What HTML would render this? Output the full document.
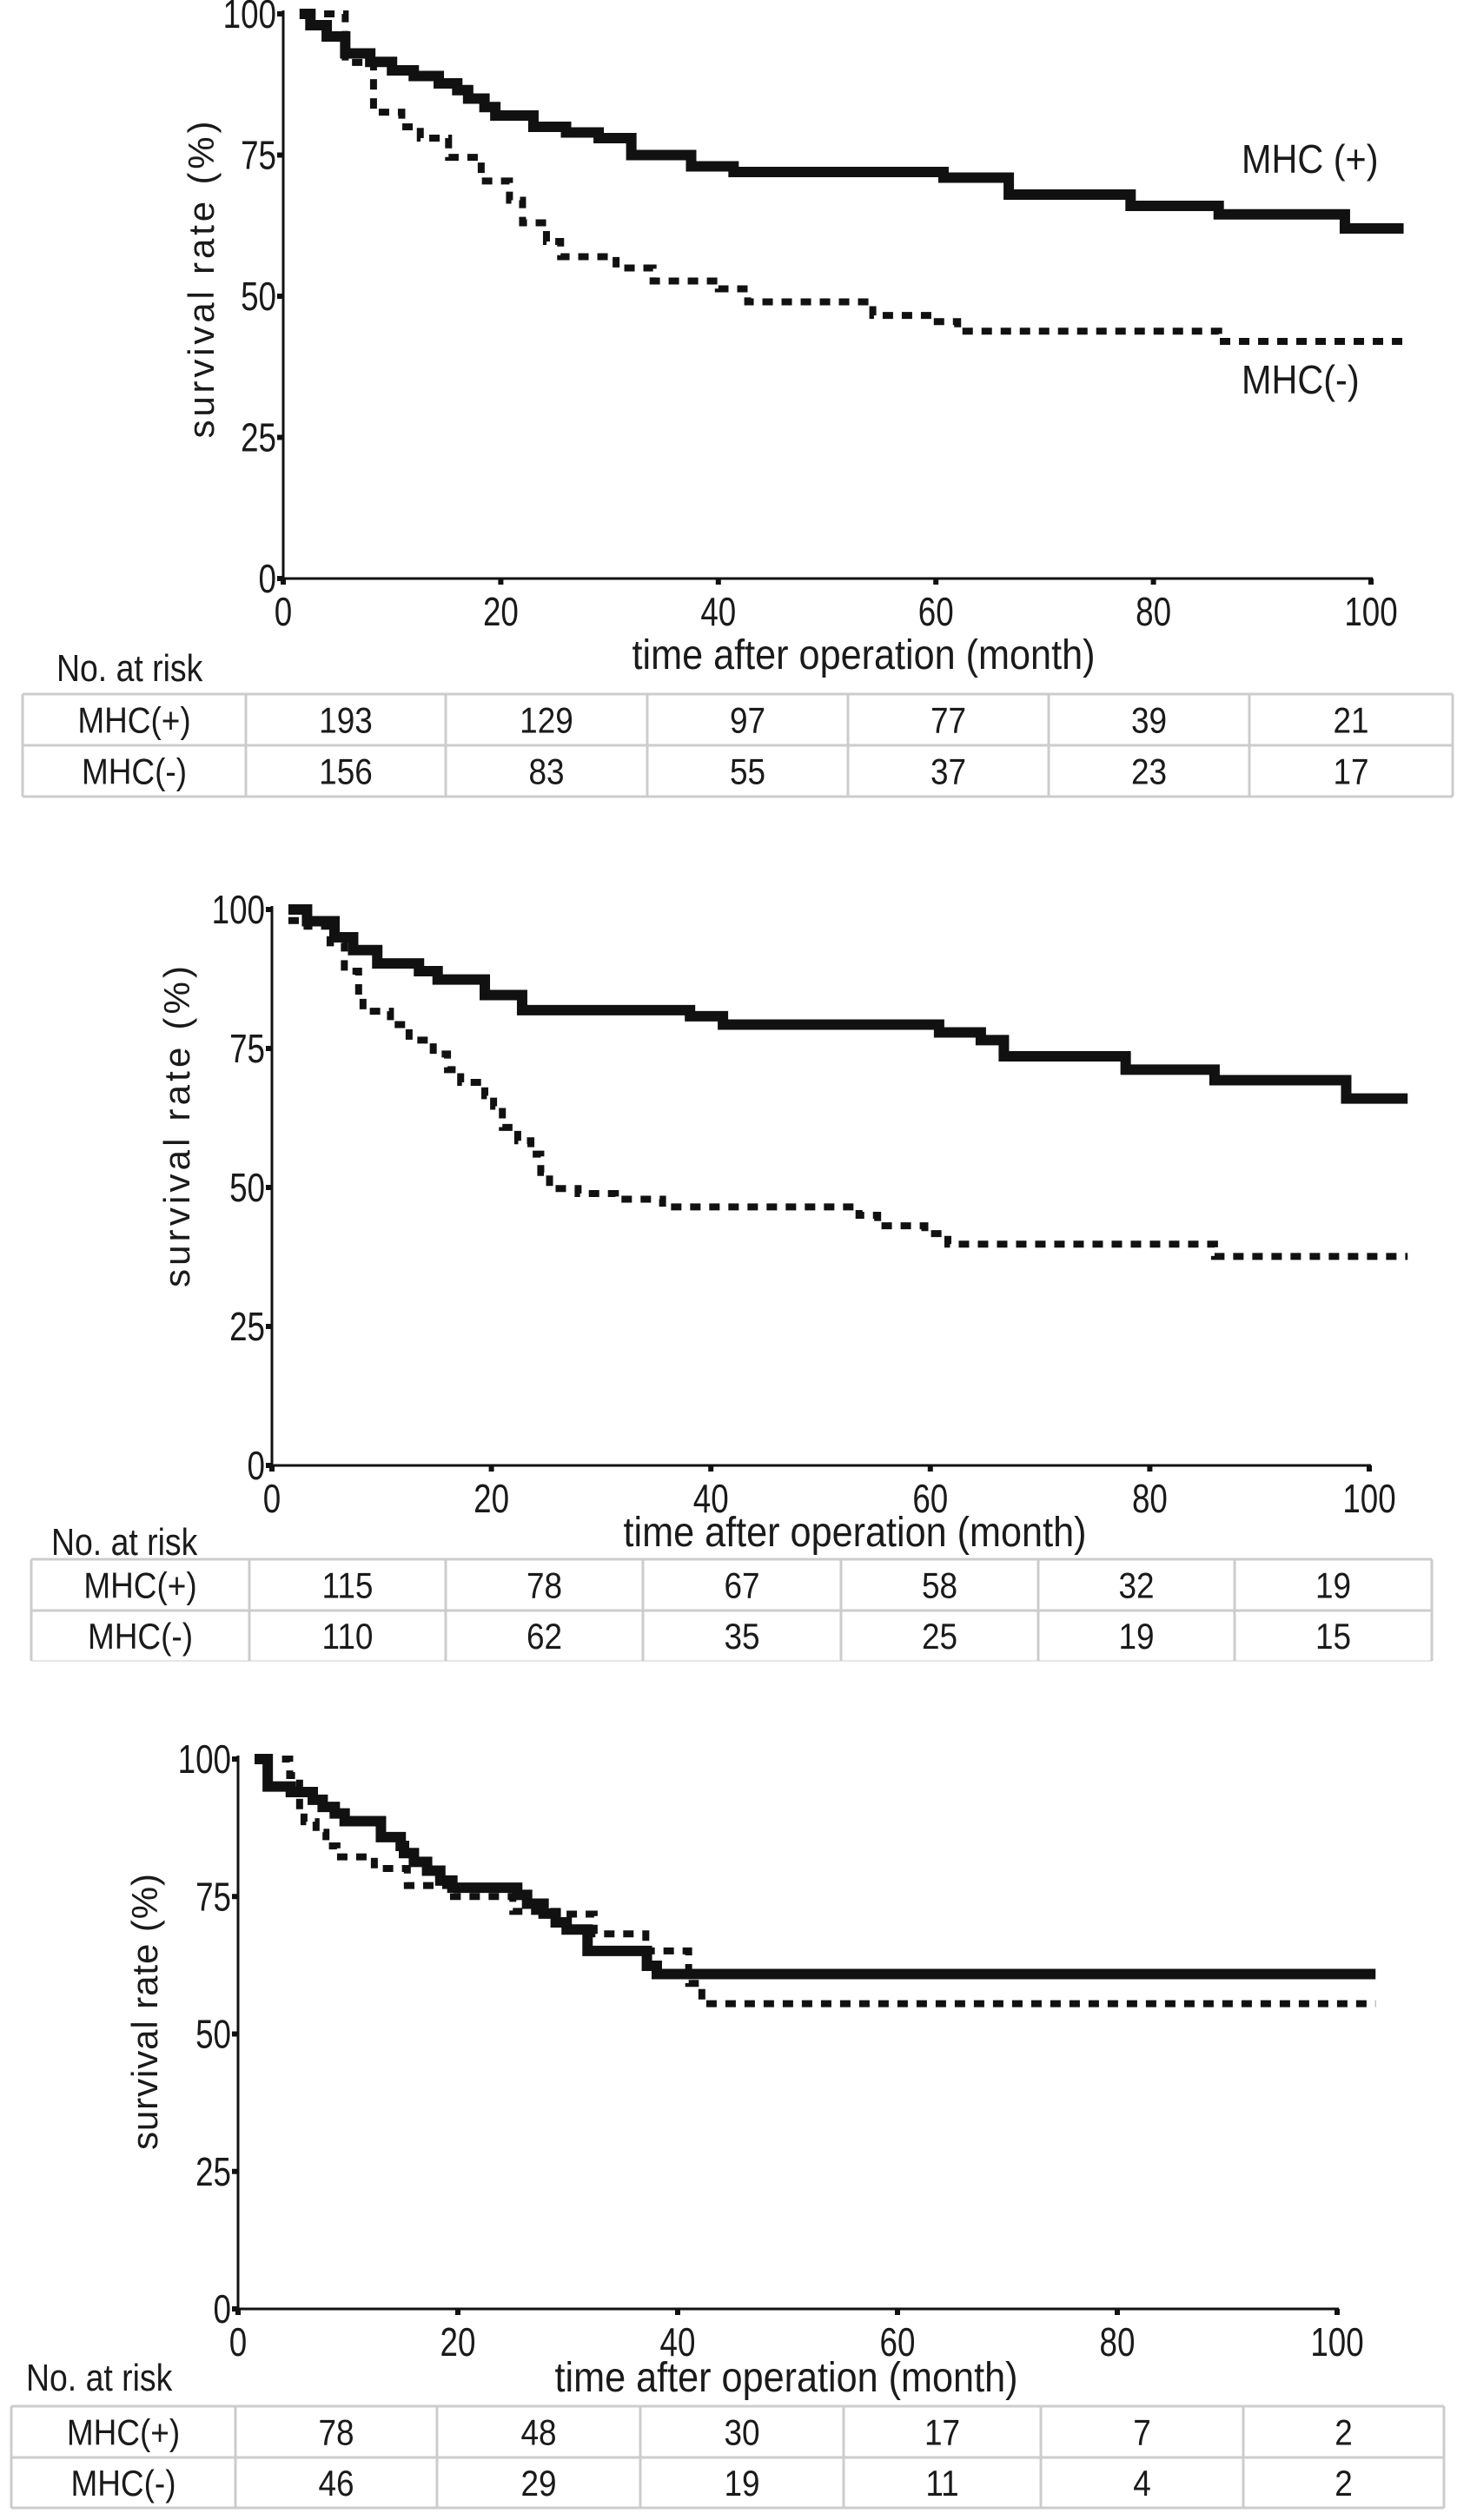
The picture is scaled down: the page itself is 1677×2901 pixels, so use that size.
<!DOCTYPE html>
<html><head><meta charset="utf-8"><style>
html,body{margin:0;padding:0;background:#fff;}
svg{display:block;}
text{font-family:"Liberation Sans",Arial,sans-serif;fill:#1a1a1a;}
</style></head><body>
<svg id="fig" width="1677" height="2901" viewBox="0 0 1677 2901" xmlns="http://www.w3.org/2000/svg"></svg>
<script>
// ---- data ----
const xTicks = [0,20,40,60,80,100];
const yTicks = [0,25,50,75,100];
// Panel 1
const p1PlusT = [1.5,2.5,4,5.7,8,10,12,14.3,16,17,18.5,19.5,23,26,29,32,37.5,41.4,60.7,66.7,77.9,86,97.6,103];
const p1PlusS = [100,98,96,93,91.5,90,89,87.7,86.5,85,83.5,82,80,79,78,75,73,72,71,68,66,64.5,62,62];
const p1MinusT = [2,5.7,8.3,10.9,12.6,15.2,18.2,20.8,22,24.2,25.5,30.6,34,40,42.7,54.2,59.8,62,86,103];
const p1MinusS = [100,91.4,82.6,80,78,74.6,70.4,67,63,59.7,57,55,52.7,51.3,49,46.6,45.5,43.8,42,42];
// Panel 2
const p2PlusT = [1.5,3.2,5.7,7.4,9.6,13.4,15.1,19.4,22.8,38.1,41.1,60.8,64.6,66.7,77.8,85.9,97.9,103.5];
const p2PlusS = [100,97.9,95,92.7,90.3,88.9,87.4,84.6,81.9,80.8,79.3,77.9,76.5,73.6,71.2,69.3,66,66];
const p2MinusT = [1.5,3.2,5.3,6.6,7.9,8.3,10.8,12.5,14.7,16,17.2,19.4,20.2,21,22.4,23.6,24.5,25.3,27.9,31.3,35.6,53.5,55.2,59.5,61.6,85.9,103.5];
const p2MinusS = [98,97,94,88.9,84.6,81.7,79.3,76.5,74,71.2,68.9,66.5,64.6,60.8,58.4,56,52.7,49.8,48.9,47.9,46.5,45,43.1,41.7,39.8,37.6,37.6];
// Panel 3
const p3PlusT = [1.5,2.7,4.8,6.8,7.7,8.8,9.7,13,14.8,15.1,16,17.2,18.4,19.5,25.4,26.3,27.8,28.9,29.9,31.8,37.2,38.1,103.5];
const p3PlusS = [100,95,94,92.6,91.3,90.1,88.7,85.8,84.2,82.9,81.3,79.7,77.9,76.6,75.3,73.7,71.9,70.3,69,65.1,62.4,60.9,60.9];
const p3MinusT = [4,4.7,5.6,6,7.1,8,9,12.4,15.4,19.6,25,29.4,32.4,37.1,41,42.2,103.5];
const p3MinusS = [100,97,90.6,88.6,86.7,84.2,82.2,80.1,77,75,72.3,71.8,68.2,65.1,59.2,55.5,55.5];
// At-risk tables
const p1RiskPlus = ["193","129","97","77","39","21"];
const p1RiskMinus = ["156","83","55","37","23","17"];
const p2RiskPlus = ["115","78","67","58","32","19"];
const p2RiskMinus = ["110","62","35","25","19","15"];
const p3RiskPlus = ["78","48","30","17","7","2"];
const p3RiskMinus = ["46","29","19","11","4","2"];

const NS = "http://www.w3.org/2000/svg";
const svg = document.getElementById('fig');
function mk(tag, attrs, parent){
  const e = document.createElementNS(NS, tag);
  for (const k in attrs) e.setAttribute(k, attrs[k]);
  (parent||svg).appendChild(e);
  return e;
}
// condensed text
function ctext(x,y,size,sx,anchor,parent){
  return mk('text',{x:0,y:0,'font-size':size,'text-anchor':anchor,transform:'translate('+x+','+y+') scale('+sx+',1)'},parent);
}
function stepPath(T,S,xs,ys){
  let d = "M"+xs(T[0])+","+ys(S[0]);
  for(let i=1;i<T.length;i++){ d += " H"+xs(T[i])+" V"+ys(S[i]); }
  return d;
}
function panel(cfg){
  const g = mk('g',{});
  
  
  const xs = t => cfg.x0 + (cfg.x100-cfg.x0)*t/100;
  const ys = s => cfg.y0 - (cfg.y0-cfg.y100)*s/100;
  const ya = mk('line',{x1:cfg.ax,y1:cfg.y100-4,x2:cfg.ax,y2:cfg.y0,stroke:'#111','stroke-width':3},g);
   
  const xa = mk('line',{x1:cfg.ax,y1:cfg.y0,x2:xs(100)+2,y2:cfg.y0,stroke:'#111','stroke-width':3},g);
   
  yTicks.forEach(v=>{
    const tk = mk('rect',{x:cfg.ax-7,y:ys(v)-3,width:7,height:6,fill:'#111'},g);
     
    const tl = ctext(cfg.ax-8,ys(v)+16,46,0.8,'end',g);
     
    tl.textContent = String(v);
  });
  xTicks.forEach(v=>{
    const tk = mk('rect',{x:xs(v)-3,y:cfg.y0,width:6,height:7,fill:'#111'},g);
     
    const tl = ctext(xs(v),cfg.y0+54,46,0.8,'middle',g);
     
    tl.textContent = String(v);
  });
  const xt = ctext(cfg.xtx,cfg.xty,48,0.9,'middle',g);
   
  xt.textContent = 'time after operation (month)';
  const yt = mk('text',{x:0,y:0,'font-size':42,'text-anchor':'middle',textLength:cfg.ytl,lengthAdjust:'spacing',
    transform:'translate('+cfg.ytx+','+cfg.yty+') rotate(-90)'},g);
   
  yt.textContent = 'survival rate (%)';
  const pm = mk('path',{d:stepPath(cfg.mT,cfg.mS,xs,ys),fill:'none',stroke:'#111','stroke-width':8,'stroke-dasharray':'12 10','stroke-linejoin':'miter'},g);
   
  const pp = mk('path',{d:stepPath(cfg.pT,cfg.pS,xs,ys),fill:'none',stroke:'#111','stroke-width':12,'stroke-linejoin':'miter'},g);
   
  const nr = ctext(cfg.nrx,cfg.nry,44,0.85,'start',g);
   
  nr.textContent = 'No. at risk';
  const tb = cfg.tb, gc = '#cccccc';
  const tg = mk('g',{},g);
   
  mk('line',{x1:tb.l,y1:tb.t,x2:tb.r,y2:tb.t,stroke:gc,'stroke-width':3},tg);
  mk('line',{x1:tb.l,y1:tb.m,x2:tb.r,y2:tb.m,stroke:gc,'stroke-width':3},tg);
  mk('line',{x1:tb.l,y1:tb.b,x2:tb.r,y2:tb.b,stroke:gc,'stroke-width':tb.bw},tg);
  const cols = [tb.l].concat(tb.c).concat([tb.r]);
  cols.forEach(cx=>mk('line',{x1:cx,y1:tb.t,x2:cx,y2:tb.b,stroke:gc,'stroke-width':3},tg));
  const rows = [['MHC(+)'].concat(cfg.rp), ['MHC(-)'].concat(cfg.rm)];
  const rowY = [(tb.t+tb.m)/2+15, (tb.m+tb.b)/2+15];
  rows.forEach((r,ri)=>r.forEach((v,ci)=>{
    const t = ctext((cols[ci]+cols[ci+1])/2,rowY[ri],42,0.88,'middle',tg);
    
    
    t.textContent = v;
  }));
  return g;
}
panel({name:'panel-1',ax:326,x0:326,x100:1578,y100:16,y0:666,xtx:994,xty:770,ytx:246,yty:322,ytl:365,
  pT:p1PlusT,pS:p1PlusS,mT:p1MinusT,mS:p1MinusS,nrx:65,nry:784,
  tb:{l:26,r:1672,t:799,m:858,b:917,bw:3,c:[283,513,745,976,1207,1438]},rp:p1RiskPlus,rm:p1RiskMinus});
panel({name:'panel-2',ax:313,x0:313,x100:1576,y100:1047,y0:1687,xtx:984,xty:1780,ytx:218,yty:1297,ytl:370,
  pT:p2PlusT,pS:p2PlusS,mT:p2MinusT,mS:p2MinusS,nrx:59,nry:1790,
  tb:{l:36,r:1648,t:1795,m:1854,b:1912,bw:1,c:[287,513,740,968,1195,1421]},rp:p2RiskPlus,rm:p2RiskMinus});
panel({name:'panel-3',ax:274,x0:274,x100:1539,y100:2025,y0:2658,xtx:905,xty:2753,ytx:181,yty:2316,ytl:318,
  pT:p3PlusT,pS:p3PlusS,mT:p3MinusT,mS:p3MinusS,nrx:30,nry:2752,
  tb:{l:13,r:1662,t:2770,m:2829,b:2887,bw:3,c:[271,503,737,971,1198,1431]},rp:p3RiskPlus,rm:p3RiskMinus});
const l1 = ctext(1429,199,46,0.9,'start');
 
l1.textContent = 'MHC (+)';
const l2 = ctext(1429,453,46,0.9,'start');
 
l2.textContent = 'MHC(-)';
</script>
</body></html>
